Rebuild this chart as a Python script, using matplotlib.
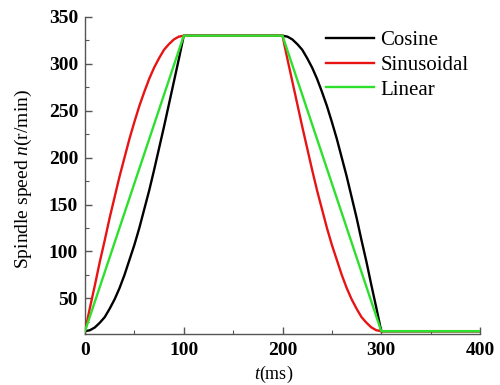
import matplotlib
matplotlib.use("Agg")
import matplotlib.pyplot as plt
from matplotlib.ticker import MultipleLocator

plt.rcParams["font.family"] = ["Liberation Serif", "DejaVu Serif"]
plt.rcParams["mathtext.fontset"] = "custom"
plt.rcParams["mathtext.it"] = "Liberation Serif:italic"
plt.rcParams["mathtext.rm"] = "Liberation Serif"

# time axis (ms)
t = [0, 5, 10, 15, 20, 25, 30, 35, 40, 45, 50, 55, 60, 65, 70, 75, 80, 85, 90, 95, 100,
     200, 205, 210, 215, 220, 225, 230, 235, 240, 245, 250, 255, 260, 265, 270, 275,
     280, 285, 290, 295, 300, 400]

cosine = [15, 16, 19, 24, 30, 39, 49, 61, 75, 91, 107, 125, 145, 165, 187, 210, 233,
          257, 281, 305, 330,
          330, 329, 326, 321, 315, 306, 296, 284, 270, 255, 238, 220, 200, 180, 158,
          136, 112, 89, 64, 40, 15, 15]
sinusoidal = [15, 40, 64, 89, 112, 136, 158, 180, 200, 220, 238, 255, 270, 284, 296,
              306, 315, 321, 326, 329, 330,
              330, 305, 281, 257, 233, 210, 187, 165, 145, 125, 107, 91, 75, 61, 49,
              39, 30, 24, 19, 16, 15, 15]
t_lin = [0, 100, 200, 300, 400]
linear = [15, 330, 330, 15, 15]

series_names = ["Cosine", "Sinusoidal", "Linear"]
x_ticks = [0, 100, 200, 300, 400]
y_ticks = [50, 100, 150, 200, 250, 300, 350]

fig = plt.figure(figsize=(5, 3.85), dpi=100)
ax = fig.add_axes([0.17, 0.1325, 0.79, 0.8235])

ax.plot(t, cosine, color="black", lw=1.7, label=series_names[0], zorder=3)
ax.plot(t, sinusoidal, color="#e81414", lw=1.7, label=series_names[1], zorder=3)
ax.plot(t_lin, linear, color="#2ee02e", lw=1.7, label=series_names[2], zorder=4)

ax.set_xlim(0, 400)
ax.set_ylim(12, 350)
ax.set_xticks(x_ticks)
ax.set_yticks(y_ticks)
ax.xaxis.set_minor_locator(MultipleLocator(50))
ax.yaxis.set_minor_locator(MultipleLocator(25))
ax.tick_params(which="both", direction="in", color="#555555")
ax.tick_params(which="major", length=5, width=1)
ax.tick_params(which="minor", length=3, width=0.8)
ax.tick_params(axis="y", pad=5)
ax.tick_params(axis="x", pad=6)
for lab in ax.get_xticklabels() + ax.get_yticklabels():
    lab.set_fontweight("bold")
    lab.set_fontsize(14)

for s in ["top", "right"]:
    ax.spines[s].set_visible(False)
for s in ["left", "bottom"]:
    ax.spines[s].set_color("#555555")
    ax.spines[s].set_linewidth(1.0)

ax.set_xlabel(r"$t$(ms)", fontsize=13, va="center")
ax.xaxis.set_label_coords(0.477, -0.128)
ax.set_ylabel(r"Spindle speed $n$(r/min)", fontsize=14, va="center")
ax.yaxis.set_label_coords(-0.157, 0.49)

leg = ax.legend(loc="upper right", bbox_to_anchor=(1.008, 1.003), frameon=False,
                fontsize=15, handlelength=2.3, handletextpad=0.3,
                labelspacing=0.25, borderpad=0.2)

fig.savefig("out.png", dpi=100)
